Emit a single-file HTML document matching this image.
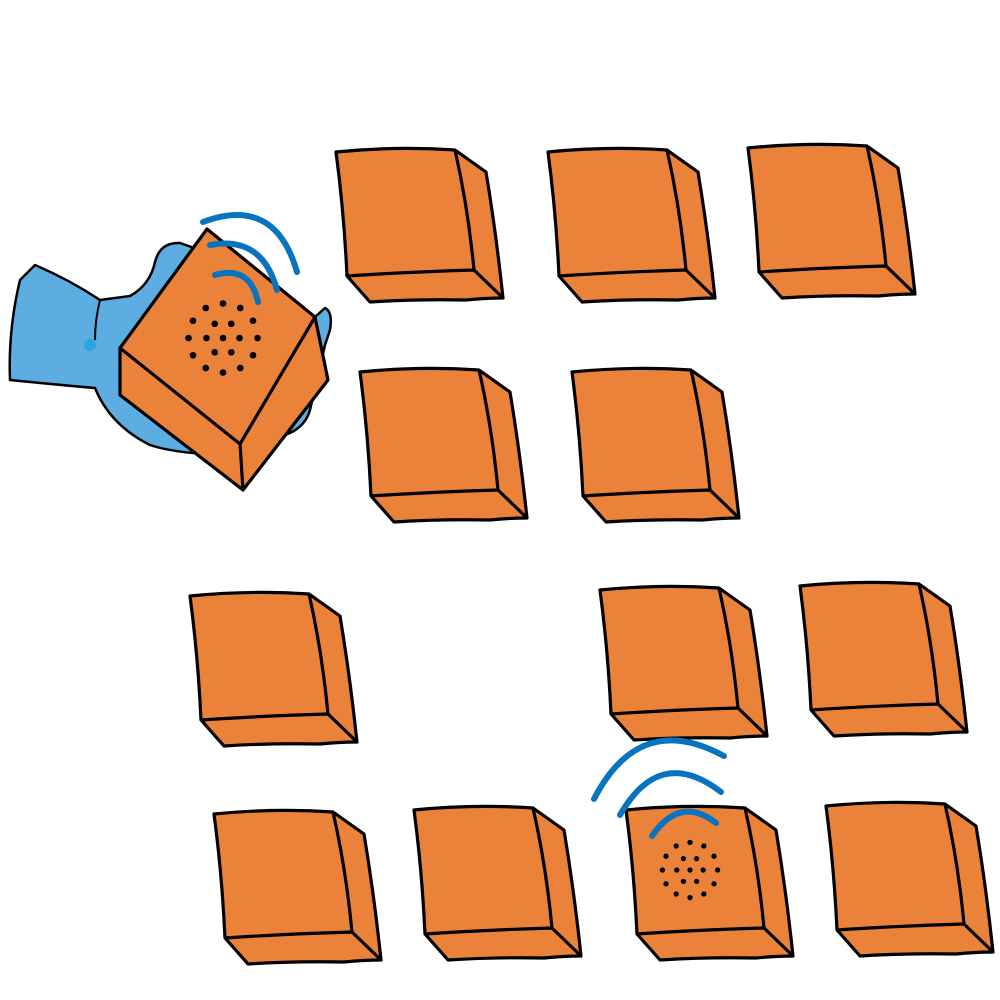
<!DOCTYPE html>
<html><head><style>html,body{margin:0;padding:0;background:#fff}svg{display:block}</style></head>
<body>
<svg width="1000" height="1000" viewBox="0 0 1000 1000" xmlns="http://www.w3.org/2000/svg">
<defs>
<g id="box">
<path d="M0,0 Q60,-6 119,-2 L150,20 Q160,80 167,146 Q150,146 130,148 Q80,147 34,150 L11,124 Q8,60 0,0 Z" fill="#EB823A" stroke="#000" stroke-width="3.2" stroke-linejoin="round"/>
<path d="M11,124 Q70,120 138,118 L167,146 M119,-2 Q132,55 138,118" fill="none" stroke="#000" stroke-width="3.2" stroke-linejoin="round"/>
</g>
<g id="dots" fill="#000">
<circle cx="0" cy="0" r="2.2"/>
<circle cx="11" cy="0" r="2.2"/><circle cx="5.5" cy="9.5" r="2.2"/><circle cx="-5.5" cy="9.5" r="2.2"/><circle cx="-11" cy="0" r="2.2"/><circle cx="-5.5" cy="-9.5" r="2.2"/><circle cx="5.5" cy="-9.5" r="2.2"/>
<circle cx="23" cy="0" r="2.2"/><circle cx="20" cy="11.5" r="2.2"/><circle cx="11.5" cy="20" r="2.2"/><circle cx="0" cy="23" r="2.2"/><circle cx="-11.5" cy="20" r="2.2"/><circle cx="-20" cy="11.5" r="2.2"/><circle cx="-23" cy="0" r="2.2"/><circle cx="-20" cy="-11.5" r="2.2"/><circle cx="-11.5" cy="-20" r="2.2"/><circle cx="0" cy="-23" r="2.2"/><circle cx="11.5" cy="-20" r="2.2"/><circle cx="20" cy="-11.5" r="2.2"/>
</g>
</defs>
<use href="#box" x="336" y="152"/>
<use href="#box" x="548" y="152"/>
<use href="#box" x="748" y="148"/>
<use href="#box" x="360" y="372"/>
<use href="#box" x="572" y="372"/>
<use href="#box" x="190" y="596"/>
<use href="#box" x="600" y="590"/>
<use href="#box" x="800" y="586"/>
<use href="#box" x="214" y="814"/>
<use href="#box" x="414" y="810"/>
<use href="#box" x="626" y="810"/>
<use href="#box" x="826" y="806"/>
<g transform="translate(690,870) scale(1.2)"><use href="#dots"/></g>
<g fill="none" stroke="#0873BE" stroke-width="6" stroke-linecap="round">
<path d="M594,799 Q640,710 724,756"/>
<path d="M620,815 Q660,745 721,792"/>
<path d="M652,836 Q680,795 716,823"/>
</g>
<!-- hand -->
<path d="M35,265 Q70,280 100,300 L130,296 Q150,285 155,262 Q160,242 180,243 L200,250 L207,232 L315,317 L325,308 Q333,312 330,330 L325,345 L310,410 Q305,428 285,435 L240,455 Q180,455 150,445 Q110,425 95,388 Q60,385 10,380 Q8,330 20,280 Z" fill="#5DADE2" stroke="#000" stroke-width="2.5" stroke-linejoin="round"/>
<path d="M100,300 Q95,320 95,340" fill="none" stroke="#000" stroke-width="2"/>
<circle cx="90" cy="345" r="6" fill="#2AA7E0"/>
<!-- hand box -->
<path d="M207,229 L315,317 L328,380 L243,490 L120,395 L120,348 Z" fill="#EB823A" stroke="#000" stroke-width="3.2" stroke-linejoin="round"/>
<path d="M120,348 L240,444 L315,317 M240,444 L243,490" fill="none" stroke="#000" stroke-width="3.2" stroke-linejoin="round"/>
<g transform="translate(223,338) scale(1.5)"><use href="#dots"/></g>
<g fill="none" stroke="#0873BE" stroke-width="6" stroke-linecap="round">
<path d="M203,222 Q275,195 297,272"/>
<path d="M210,245 Q262,235 277,290"/>
<path d="M215,275 Q250,265 258,302"/>
</g>
</svg>
</body></html>
